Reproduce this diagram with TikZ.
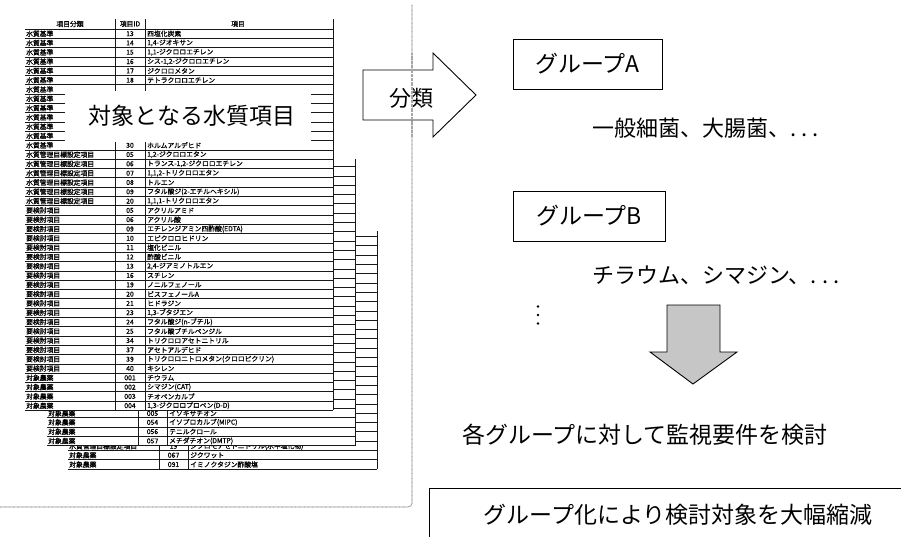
\documentclass[tikz,border=0pt]{standalone}
\usepackage{fontspec}
\setmainfont{Noto Sans CJK JP}
\newfontfamily\tabfont{Noto Sans CJK JP}[FakeBold=0.8]
\tikzset{
  cell/.style={font=\tabfont\fontsize{6.8}{7}\selectfont, inner sep=0pt, anchor=west},
  idcell/.style={font=\tabfont\fontsize{6.8}{7}\selectfont, inner sep=0pt},
  rule/.style={line width=0.7pt, black!90},
  big/.style={font=\fontsize{23}{27}\selectfont, inner sep=0pt},
  frameline/.style={gray!70, line width=1.1pt, dash pattern=on 0.8pt off 0.5pt},
  groupbox/.style={draw, line width=0.9pt, inner sep=0pt, minimum height=50pt, font=\fontsize{23}{27}\selectfont},
  blockarrow/.style={draw, line width=0.9pt, line join=miter},
}
\begin{document}
\begin{tikzpicture}[x=1pt,y=-1pt]
\useasboundingbox (0,0) rectangle (901,537);

% ---------- table 3 (back) ----------
\fill[white] (68,231) rectangle (377,469);
\foreach \k in {0,...,25} \draw[rule] (68,{469-\k*9.3}) -- (377,{469-\k*9.3});
\foreach \x in {159,188,377} \draw[rule] (\x,231) -- (\x,469);
\begin{scope}
  \clip (60,446.2) rectangle (380,470);
  \node[cell] (t3a) at (69,446.3) {水質管理目標設定項目};
  \node[idcell] (t3ai) at (173.5,446.3) {19};
  \node[cell] (t3an) at (190,446.3) {ジブロモアセトニトリル(水中塩化物)};
\end{scope}
\node[cell] (t3b) at (69,455.2) {対象農薬};
\node[idcell] (t3bi) at (173.5,455.2) {067};
\node[cell] (t3bn) at (190,455.2) {ジクワット};
\node[cell] (t3c) at (69,464.5) {対象農薬};
\node[idcell] (t3ci) at (173.5,464.5) {091};
\node[cell] (t3cn) at (190,464.5) {イミノクタジン酢酸塩};

% ---------- table 2 (middle) ----------
\fill[white] (47,159) rectangle (355,445.6);
\foreach \k in {0,...,30} \draw[rule] (47,{445.6-\k*9.3}) -- (355,{445.6-\k*9.3});
\foreach \x in {138,167,355} \draw[rule] (\x,159) -- (\x,445.6);
\begin{scope}
  \clip (40,410.6) rectangle (360,420);
  \node[cell] (t2a1) at (48,413.4) {対象農薬};
  \node[idcell] (t2b1) at (152.5,413.4) {005};
  \node[cell] (t2c1) at (169,413.4) {イソキサチオン};
\end{scope}
\foreach \c/\i/\n [count=\k from 2] in {対象農薬/054/イソプロカルブ(MIPC), 対象農薬/056/テニルクロール, 対象農薬/057/メチダチオン(DMTP)} {
  \node[cell] (t2a\k) at (48,{403.75+\k*9.3}) {\c};
  \node[idcell] (t2b\k) at (152.5,{403.75+\k*9.3}) {\i};
  \node[cell] (t2c\k) at (169,{403.75+\k*9.3}) {\n};
}

% ---------- table 1 (front) ----------
\fill[white] (25,19) rectangle (333,410.35);
\node[idcell] (h1) at (70,24) {項目分類};
\node[idcell] (h2) at (130,24) {項目ID};
\node[idcell] (h3) at (238,24) {項目};
\draw[rule] (25,29.05) -- (333,29.05);
\foreach \k in {1,...,41} \draw[rule] (25,{29.05+\k*9.3}) -- (333,{29.05+\k*9.3});
\foreach \x in {115,145,333} \draw[rule] (\x,19) -- (\x,410.35);
\foreach \c/\i/\n [count=\k] in {
  水質基準/13/四塩化炭素,
  水質基準/14/{1,4-ジオキサン},
  水質基準/15/{1,1-ジクロロエチレン},
  水質基準/16/{シス-1,2-ジクロロエチレン},
  水質基準/17/ジクロロメタン,
  水質基準/18/テトラクロロエチレン,
  水質基準/{}/{},
  水質基準/{}/{},
  水質基準/{}/{},
  水質基準/{}/{},
  水質基準/{}/{},
  水質基準/{}/{},
  水質基準/30/ホルムアルデヒド,
  水質管理目標設定項目/05/{1,2-ジクロロエタン},
  水質管理目標設定項目/06/{トランス-1,2-ジクロロエチレン},
  水質管理目標設定項目/07/{1,1,2-トリクロロエタン},
  水質管理目標設定項目/08/トルエン,
  水質管理目標設定項目/09/フタル酸ジ(2-エチルヘキシル),
  水質管理目標設定項目/20/{1,1,1-トリクロロエタン},
  要検討項目/05/アクリルアミド,
  要検討項目/06/アクリル酸,
  要検討項目/09/エチレンジアミン四酢酸(EDTA),
  要検討項目/10/エピクロロヒドリン,
  要検討項目/11/塩化ビニル,
  要検討項目/12/酢酸ビニル,
  要検討項目/13/{2,4-ジアミノトルエン},
  要検討項目/16/スチレン,
  要検討項目/19/ノニルフェノール,
  要検討項目/20/ビスフェノールA,
  要検討項目/21/ヒドラジン,
  要検討項目/23/{1,3-ブタジエン},
  要検討項目/24/フタル酸ジ(n-ブチル),
  要検討項目/25/フタル酸ブチルベンジル,
  要検討項目/34/トリクロロアセトニトリル,
  要検討項目/37/アセトアルデヒド,
  要検討項目/39/トリクロロニトロメタン(クロロピクリン),
  要検討項目/40/キシレン,
  対象農薬/001/チウラム,
  対象農薬/002/シマジン(CAT),
  対象農薬/003/チオベンカルブ,
  対象農薬/004/{1,3-ジクロロプロペン(D-D)}} {
  \node[cell] (ta\k) at (26,{24.4+\k*9.3}) {\c};
  \node[idcell] (tb\k) at (130,{24.4+\k*9.3}) {\i};
  \node[cell] (tc\k) at (147,{24.4+\k*9.3}) {\n};
}

% ---------- overlay title ----------
\fill[white] (65,91) rectangle (311,142);
\node[big] (title) at (192,116) {対象となる水質項目};

% ---------- dotted frame ----------
\draw[frameline, rounded corners=4pt] (412,5) -- (412,507) -- (0,507);

% ---------- classify arrow ----------
\draw[blockarrow, fill=white] (363,70) -- (433,70) -- (433,53) -- (476,95) -- (433,137) -- (433,120) -- (363,120) -- cycle;
\node[big, font=\fontsize{22}{26}\selectfont] (bunrui) at (411,98) {分類};
\draw[frameline] (412,53) -- (412,137);

% ---------- groups ----------
\node[groupbox, minimum width=149pt] (ga) at (587.5,64) {グループA};
\node[big, anchor=west, font=\fontsize{22}{26}\selectfont] (gatext) at (592,128) {一般細菌、大腸菌、.\hspace{5pt}.\hspace{5pt}.};
\node[groupbox, minimum width=152pt] (gb) at (589,216) {グループB};
\node[big, anchor=west, font=\fontsize{22}{26}\selectfont] (gbtext) at (592,275) {チラウム、シマジン、.\hspace{5pt}.\hspace{5pt}.};
\foreach \y [count=\k] in {306.5,315,323.5} \fill (538,\y) circle (1.4pt) coordinate (dot\k);

% ---------- down arrow ----------
\draw[blockarrow, fill=gray!45] (667,305) -- (720,305) -- (720,352) -- (737,352) -- (693,384) -- (650,352) -- (667,352) -- cycle;

\node[big] (kento) at (645,435) {各グループに対して監視要件を検討};

% ---------- bottom box ----------
\draw[line width=0.9pt] (901,488) -- (429,488) -- (429,537);
\node[big] (result) at (678,515) {グループ化により検討対象を大幅縮減};
\end{tikzpicture}
\end{document}
